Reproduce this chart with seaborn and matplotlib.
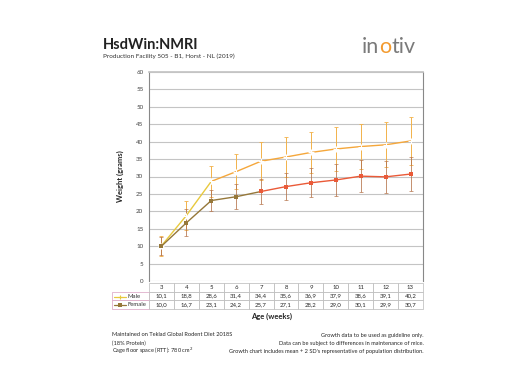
import numpy as np
import pandas as pd
import seaborn as sns
import matplotlib.pyplot as plt
from matplotlib.lines import Line2D

# values
weeks = [3, 4, 5, 6, 7, 8, 9, 10, 11, 12, 13]
male = [10.1, 18.8, 28.6, 31.4, 34.4, 35.6, 36.9, 37.9, 38.6, 39.1, 40.2]
female = [10.0, 16.7, 23.1, 24.2, 25.7, 27.1, 28.2, 29.0, 30.1, 29.9, 30.7]
male_2sd = [2.8, 4.3, 4.5, 5.0, 5.5, 5.6, 6.0, 6.3, 6.5, 6.5, 7.0]
female_2sd = [2.6, 3.9, 3.1, 3.6, 3.6, 3.8, 4.2, 4.6, 4.6, 4.6, 4.8]
yticks = list(range(0, 65, 5))

sns.set_theme(style='white')
plt.rcParams['font.family'] = ['Lato', 'DejaVu Sans']

fig = plt.figure(figsize=(5.24, 3.70), dpi=100)
ax = fig.add_axes([149/524, 1-281/370, 274/524, 209/370])

df = pd.DataFrame({'week': weeks, 'Male': male, 'Female': female})

# error bars (mean +/- 2 SD)
ax.errorbar(weeks, male, yerr=male_2sd, fmt='none', ecolor='#f2b24a',
            elinewidth=0.7, capsize=1.5, capthick=0.6, zorder=2)
ax.errorbar(weeks, female, yerr=female_2sd, fmt='none', ecolor='#b5734a',
            elinewidth=0.7, capsize=1.5, capthick=0.6, zorder=2, alpha=0.8)

# lines, two-tone like the reference
sns.lineplot(data=df.iloc[:3], x='week', y='Male', ax=ax, color='#e8c93e',
             marker='+', markersize=4, lw=1.0, zorder=3)
sns.lineplot(data=df.iloc[2:], x='week', y='Male', ax=ax, color='#f5a73b',
             marker='+', markersize=4, lw=1.0, zorder=3)
sns.lineplot(data=df.iloc[:5], x='week', y='Female', ax=ax, color='#96783a',
             marker='s', markersize=3.5, markeredgewidth=0, lw=1.0, zorder=4)
sns.lineplot(data=df.iloc[4:], x='week', y='Female', ax=ax, color='#ea5a38',
             marker='s', markersize=3.5, markeredgewidth=0, lw=1.0, zorder=4)

ax.set_xlim(2.5, 13.5)
ax.set_ylim(0, 60)
ax.set_yticks(yticks)
ax.set_yticklabels([str(v) for v in yticks], fontsize=4.5, color='#444444')
ax.set_xticks([])
ax.set_xlabel('')
ax.set_ylabel('Weight (grams)', fontsize=5.5, fontweight='bold', labelpad=9)
ax.tick_params(axis='y', length=0, pad=4)
ax.yaxis.grid(True, color='#c4c4c4', lw=0.8)
ax.set_axisbelow(True)
for s in ['left', 'right']:
    ax.spines[s].set_color('#888888')
    ax.spines[s].set_linewidth(0.8)
ax.spines['top'].set_color('#c4c4c4')
ax.spines['bottom'].set_visible(False)

# data table under the plot
cells = [[''] + [str(w) for w in weeks],
         [''] + [f'{v:.1f}'.replace('.', ',') for v in male],
         [''] + [f'{v:.1f}'.replace('.', ',') for v in female]]
cw = [37] + [274/11] * 11
lx = -37/274
tbl = ax.table(cellText=cells, colWidths=[c/sum(cw) for c in cw], cellLoc='center',
               bbox=[lx, -28/209, 1 - lx, 26/209])
tbl.auto_set_font_size(False)
tbl.set_fontsize(4.3)
for (r, c), cell in tbl.get_celld().items():
    cell.set_edgecolor('#b8b8b8')
    cell.set_linewidth(0.5)
    if r == 0 and c == 0:
        cell.set_edgecolor('white')
    if r > 0 and c == 0:
        cell.set_edgecolor('#d9a0c0')

for yy, lab, col, mk in [(-15.5/209, 'Male', '#e8c93e', '+'),
                          (-24/209, 'Female', '#96783a', 's')]:
    ax.add_line(Line2D([lx + 0.008, lx + 0.03, lx + 0.052], [yy, yy, yy],
                       transform=ax.transAxes, color=col, lw=0.9, marker=mk,
                       markersize=3, markeredgewidth=0.8 if mk == '+' else 0,
                       markevery=[1], clip_on=False))
    ax.text(lx + 0.058, yy, lab, transform=ax.transAxes, fontsize=4.3,
            va='center', ha='left', color='#333333')

fig.text(272/524, 1-316/370, 'Age (weeks)', fontsize=5.5, fontweight='bold',
         ha='center', va='center')

# header
fig.text(103/524, 1-45/370, 'HsdWin:NMRI', fontsize=10.5, fontweight='bold',
         ha='left', va='center', color='#222222')
fig.text(103/524, 1-56.5/370, 'Production Facility 505 - B1, Horst - NL (2019)',
         fontsize=4.6, ha='left', va='center', color='#333333')

# logo
for xx, t, c in [(362, 'in', '#7a7a7a'), (379, 'o', '#f39a2e'), (391.5, 'tiv', '#7a7a7a')]:
    fig.text(xx/524, 1-47/370, t, fontsize=15.5, ha='left', va='center', color=c)

# footer
fs = 4.1
fig.text(112/524, 1-335/370, 'Maintained on Teklad Global Rodent Diet 2018S', fontsize=fs, va='center')
fig.text(112/524, 1-343/370, '(18% Protein)', fontsize=fs, va='center')
fig.text(112/524, 1-351/370, 'Cage floor space (RTT): 780 cm$^2$', fontsize=fs, va='center')
fig.text(424/524, 1-335/370, 'Growth data to be used as guideline only.', fontsize=fs, va='center', ha='right')
fig.text(424/524, 1-343/370, 'Data can be subject to differences in maintenance of mice.', fontsize=fs, va='center', ha='right')
fig.text(424/524, 1-351/370, "Growth chart includes mean + 2 SD's representative of population distribution.",
         fontsize=fs, va='center', ha='right')

fig.savefig('out.png', dpi=100, facecolor='white')
